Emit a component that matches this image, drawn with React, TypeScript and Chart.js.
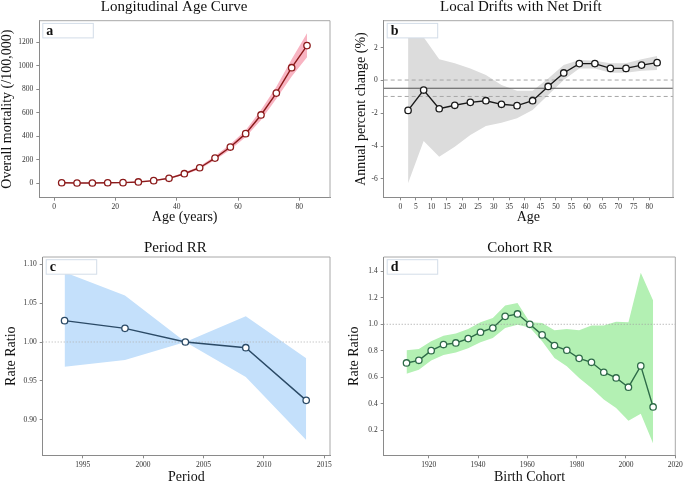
import React, { useEffect, useRef } from "react";
import { Chart, registerables } from "chart.js";

Chart.register(...registerables);

// ---------- Panel a: Longitudinal Age Curve ----------
const ageGroups = [2.5, 7.5, 12.5, 17.5, 22.5, 27.5, 32.5, 37.5, 42.5, 47.5, 52.5, 57.5, 62.5, 67.5, 72.5, 77.5, 82.5];
const ageMortality = [5, 3, 3, 5, 6, 12, 23, 43, 82, 133, 215, 309, 423, 582, 768, 984, 1172];
const ageMortalityLow = [3, 1, 1, 3, 4, 9, 19, 37, 73, 121, 199, 287, 395, 539, 720, 910, 1072];
const ageMortalityHigh = [8, 6, 6, 8, 9, 16, 28, 50, 92, 146, 232, 332, 452, 624, 822, 1055, 1277];
const ageTicksX = [0, 20, 40, 60, 80];
const ageTicksY = [0, 200, 400, 600, 800, 1000, 1200];

// ---------- Panel b: Local Drifts with Net Drift ----------
const driftAges = [2.5, 7.5, 12.5, 17.5, 22.5, 27.5, 32.5, 37.5, 42.5, 47.5, 52.5, 57.5, 62.5, 67.5, 72.5, 77.5, 82.5];
const localDrift = [-1.82, -0.58, -1.72, -1.51, -1.33, -1.23, -1.45, -1.53, -1.23, -0.36, 0.46, 1.03, 1.03, 0.74, 0.74, 0.94, 1.09];
const localDriftLow = [-6.26, -3.69, -4.64, -4.03, -3.32, -2.77, -2.57, -2.3, -1.8, -0.88, 0.03, 0.74, 0.74, 0.48, 0.48, 0.6, 0.64];
const localDriftHigh = [2.87, 2.63, 1.29, 1.05, 0.74, 0.34, -0.27, -0.62, -0.62, 0.13, 0.94, 1.25, 1.21, 1.05, 1.05, 1.29, 1.49];
const netDrift = -0.47;
const netDriftLow = -0.97;
const netDriftHigh = 0.03;
const driftTicksX = [0, 5, 10, 15, 20, 25, 30, 35, 40, 45, 50, 55, 60, 65, 70, 75, 80];
const driftTicksY = [-6, -4, -2, 0, 2];

// ---------- Panel c: Period RR ----------
const periods = [1993.5, 1998.5, 2003.5, 2008.5, 2013.5];
const periodRR = [1.0275, 1.0176, 1.0, 0.9927, 0.9249];
const periodRRLow = [0.968, 0.977, 1.0, 0.955, 0.874];
const periodRRHigh = [1.0897, 1.06, 1.0, 1.033, 0.979];
const periodTicksX = [1995, 2000, 2005, 2010, 2015];
const periodTicksY = [0.9, 0.95, 1.0, 1.05, 1.1];

// ---------- Panel d: Cohort RR ----------
const cohorts = [1911, 1916, 1921, 1926, 1931, 1936, 1941, 1946, 1951, 1956, 1961, 1966, 1971, 1976, 1981, 1986, 1991, 1996, 2001, 2006, 2011];
const cohortRR = [0.708, 0.728, 0.801, 0.847, 0.859, 0.892, 0.94, 0.972, 1.06, 1.078, 1.0, 0.92, 0.839, 0.804, 0.743, 0.713, 0.638, 0.595, 0.525, 0.686, 0.376];
const cohortRRLow = [0.626, 0.656, 0.726, 0.769, 0.787, 0.82, 0.864, 0.897, 0.972, 0.997, 0.975, 0.872, 0.746, 0.683, 0.595, 0.52, 0.432, 0.368, 0.272, 0.325, 0.1];
const cohortRRHigh = [0.804, 0.814, 0.872, 0.914, 0.93, 0.965, 1.015, 1.048, 1.141, 1.161, 1.015, 1.01, 0.955, 0.965, 0.955, 0.99, 0.99, 1.02, 1.015, 1.39, 1.18];
const cohortTicksX = [1920, 1940, 1960, 1980, 2000, 2020];
const cohortTicksY = [0.2, 0.4, 0.6, 0.8, 1.0, 1.2, 1.4];

const SERIF = "'Liberation Serif', 'Times New Roman', 'DejaVu Serif', serif";
const TITLE_SIZE = 15;
const AXIS_TITLE_SIZE = 14;
const LH = 1.2;

type HLine = { value: number; color: string; dash: number[]; width: number };

type Spec = {
  left: number; top: number; W: number; H: number;
  plot: { l: number; t: number; r: number; b: number };
  title: string; titleX: number; titleY: number;
  xTitle: string; xTitleY: number; yTitle: string; yTitleX: number;
  xMin: number; xMax: number; yMin: number; yMax: number;
  xTicks: number[]; yTicks: number[];
  fmtX: (v: number) => string; fmtY: (v: number) => string;
  xs: number[]; ys: number[]; lo: number[]; hi: number[];
  lineColor: string; bandColor: string; letter: string; hlines: HLine[];
  tickSize: number; ySpace: number;
};

function makeDecor(letter: string, hlines: HLine[]) {
  return {
    id: "decor",
    afterDatasetDraw(chart: any, args: any) {
      if (args.index !== 1) return;
      const { ctx, chartArea: ca, scales } = chart;
      ctx.save();
      ctx.beginPath();
      ctx.rect(ca.left, ca.top, ca.right - ca.left, ca.bottom - ca.top);
      ctx.clip();
      for (const h of hlines) {
        const y = scales.y.getPixelForValue(h.value);
        ctx.strokeStyle = h.color;
        ctx.lineWidth = h.width;
        ctx.setLineDash(h.dash);
        ctx.beginPath();
        ctx.moveTo(ca.left, y);
        ctx.lineTo(ca.right, y);
        ctx.stroke();
      }
      ctx.restore();
    },
    afterDraw(chart: any) {
      const { ctx, chartArea: ca } = chart;
      ctx.save();
      ctx.strokeStyle = "#a8a8a8";
      ctx.lineWidth = 1;
      ctx.beginPath();
      ctx.moveTo(ca.left, ca.top);
      ctx.lineTo(ca.right, ca.top);
      ctx.lineTo(ca.right, ca.bottom);
      ctx.stroke();
      // letter box
      const bx = ca.left + 3.5;
      const by = ca.top + 2.7;
      ctx.fillStyle = "#ffffff";
      ctx.fillRect(bx, by, 50.5, 14.5);
      ctx.strokeStyle = "#d3dde8";
      ctx.strokeRect(bx, by, 50.5, 14.5);
      ctx.fillStyle = "#111";
      ctx.font = `bold 14px ${SERIF}`;
      ctx.textBaseline = "middle";
      ctx.textAlign = "left";
      ctx.fillText(letter, bx + 3.5, by + 7.5);
      ctx.restore();
    },
  };
}

function buildConfig(s: Spec): any {
  const TF = TITLE_SIZE * LH;
  const AF = AXIS_TITLE_SIZE * LH;
  const { l, t, r, b } = s.plot;
  const padRight = s.W - r;
  const padLeft = Math.max(0, Math.min(2 * s.titleX - r, l - s.ySpace));
  const padBottom = Math.max(0, s.H - (s.xTitleY + AF / 2));
  const xHeight = s.H - padBottom - b;
  const yWidth = l - padLeft;
  const tickFont = { family: SERIF, size: s.tickSize };
  const axisTitleFont = { family: SERIF, size: AXIS_TITLE_SIZE, lineHeight: LH };
  const pts = (ys: number[]) => s.xs.map((x, i) => ({ x, y: ys[i] }));
  return {
    type: "line",
    data: {
      datasets: [
        {
          data: pts(s.ys),
          borderColor: s.lineColor,
          borderWidth: 1.4,
          pointRadius: 3.2,
          pointBackgroundColor: "#ffffff",
          pointBorderColor: s.lineColor,
          pointBorderWidth: 1.3,
          fill: false,
          tension: 0,
        },
        {
          data: pts(s.lo),
          borderColor: "transparent",
          borderWidth: 0,
          pointRadius: 0,
          fill: false,
        },
        {
          data: pts(s.hi),
          borderColor: "transparent",
          borderWidth: 0,
          pointRadius: 0,
          fill: 1,
          backgroundColor: s.bandColor,
        },
      ],
    },
    options: {
      animation: false,
      responsive: false,
      events: [],
      layout: { padding: { left: padLeft, right: padRight, top: 0, bottom: padBottom } },
      plugins: {
        legend: { display: false },
        tooltip: { enabled: false },
        title: {
          display: true,
          text: s.title,
          color: "#111",
          fullSize: true,
          font: { family: SERIF, size: TITLE_SIZE, weight: "normal", lineHeight: LH },
          padding: { top: s.titleY - TF / 2, bottom: t - s.titleY - TF / 2 },
        },
      },
      scales: {
        x: {
          type: "linear",
          min: s.xMin,
          max: s.xMax,
          afterFit: (sc: any) => { sc.height = xHeight; },
          afterBuildTicks: (sc: any) => { sc.ticks = s.xTicks.map((v) => ({ value: v })); },
          ticks: {
            font: tickFont,
            color: "#333",
            padding: 2,
            maxRotation: 0,
            autoSkip: false,
            callback: (v: any) => s.fmtX(Number(v)),
          },
          grid: { display: true, drawOnChartArea: false, drawTicks: true, tickLength: 3, color: "#8a8a8a" },
          border: { display: true, color: "#8a8a8a", width: 1 },
          title: { display: true, text: s.xTitle, color: "#111", font: axisTitleFont, padding: { top: 0, bottom: 0 } },
        },
        y: {
          type: "linear",
          min: s.yMin,
          max: s.yMax,
          afterFit: (sc: any) => { sc.width = yWidth; },
          afterBuildTicks: (sc: any) => { sc.ticks = s.yTicks.map((v) => ({ value: v })); },
          ticks: {
            font: tickFont,
            color: "#333",
            padding: 3,
            autoSkip: false,
            callback: (v: any) => s.fmtY(Number(v)),
          },
          grid: { display: true, drawOnChartArea: false, drawTicks: true, tickLength: 3, color: "#8a8a8a" },
          border: { display: true, color: "#8a8a8a", width: 1 },
          title: {
            display: true,
            text: s.yTitle,
            color: "#111",
            font: axisTitleFont,
            padding: { top: s.yTitleX - padLeft - AF / 2, bottom: 0 },
          },
        },
      },
    },
    plugins: [makeDecor(s.letter, s.hlines)],
  };
}

function Panel({ spec }: { spec: Spec }) {
  const ref = useRef<HTMLCanvasElement | null>(null);
  useEffect(() => {
    if (!ref.current) return;
    const chart = new Chart(ref.current, buildConfig(spec));
    return () => chart.destroy();
  }, [spec]);
  return (
    <div style={{ position: "absolute", left: spec.left, top: spec.top, width: spec.W, height: spec.H }}>
      <canvas ref={ref} width={spec.W} height={spec.H} style={{ width: spec.W, height: spec.H, display: "block" }} />
    </div>
  );
}

const intFmt = (v: number) => String(Math.round(v));

const specs: Spec[] = [
  {
    left: 0, top: 0, W: 342, H: 230,
    plot: { l: 39.3, t: 20.7, r: 330, b: 197.7 },
    title: "Longitudinal Age Curve", titleX: 176, titleY: 7.4,
    xTitle: "Age (years)", xTitleY: 217.5, yTitle: "Overall mortality (/100,000)", yTitleX: 7.5,
    xMin: -4.8, xMax: 90, yMin: -122, yMax: 1384,
    xTicks: ageTicksX, yTicks: ageTicksY, fmtX: intFmt, fmtY: intFmt,
    xs: ageGroups, ys: ageMortality, lo: ageMortalityLow, hi: ageMortalityHigh,
    lineColor: "#8b1a1a", bandColor: "#f8b4c2", letter: "a", hlines: [], tickSize: 7.5, ySpace: 21,
  },
  {
    left: 342, top: 0, W: 343, H: 230,
    plot: { l: 41.7, t: 20.7, r: 331, b: 197.3 },
    title: "Local Drifts with Net Drift", titleX: 182, titleY: 7.4,
    xTitle: "Age", xTitleY: 217.5, yTitle: "Annual percent change (%)", yTitleX: 19.5,
    xMin: -5.33, xMax: 87.6, yMin: -7.115, yMax: 3.645,
    xTicks: driftTicksX, yTicks: driftTicksY, fmtX: intFmt, fmtY: intFmt,
    xs: driftAges, ys: localDrift, lo: localDriftLow, hi: localDriftHigh,
    lineColor: "#1a1a1a", bandColor: "#dcdcdc", letter: "b",
    hlines: [
      { value: netDriftHigh, color: "#a6a6a6", dash: [4, 3], width: 1 },
      { value: netDriftLow, color: "#a6a6a6", dash: [4, 3], width: 1 },
      { value: netDrift, color: "#555555", dash: [], width: 1 },
    ],
    tickSize: 7.5, ySpace: 15,
  },
  {
    left: 0, top: 230, W: 342, H: 256,
    plot: { l: 42.7, t: 27, r: 330, b: 225.3 },
    title: "Period RR", titleX: 178, titleY: 18,
    xTitle: "Period", xTitleY: 248, yTitle: "Rate Ratio", yTitleX: 11.3,
    xMin: 1991.69, xMax: 2015.47, yMin: 0.8542, yMax: 1.1094,
    xTicks: periodTicksX, yTicks: periodTicksY, fmtX: intFmt, fmtY: (v) => v.toFixed(2),
    xs: periods, ys: periodRR, lo: periodRRLow, hi: periodRRHigh,
    lineColor: "#2b4a66", bandColor: "#c4e0fb", letter: "c",
    hlines: [{ value: 1.0, color: "#b0b0b0", dash: [1, 2], width: 1 }],
    tickSize: 7.5, ySpace: 22,
  },
  {
    left: 342, top: 230, W: 343, H: 256,
    plot: { l: 41.7, t: 27, r: 333.3, b: 225.3 },
    title: "Cohort RR", titleX: 182, titleY: 18,
    xTitle: "Birth Cohort", xTitleY: 248, yTitle: "Rate Ratio", yTitleX: 12.8,
    xMin: 1901.75, xMax: 2020, yMin: 0.011, yMax: 1.508,
    xTicks: cohortTicksX, yTicks: cohortTicksY, fmtX: intFmt, fmtY: (v) => v.toFixed(1),
    xs: cohorts, ys: cohortRR, lo: cohortRRLow, hi: cohortRRHigh,
    lineColor: "#2e6b48", bandColor: "#b3f0b3", letter: "d",
    hlines: [{ value: 1.0, color: "#a0a0a0", dash: [1, 2], width: 1 }],
    tickSize: 7.5, ySpace: 19,
  },
];

export default function App() {
  return (
    <div style={{ position: "fixed", left: 0, top: 0, width: 685, height: 486, background: "#ffffff", overflow: "hidden" }}>
      {specs.map((s) => (
        <Panel key={s.letter} spec={s} />
      ))}
    </div>
  );
}
